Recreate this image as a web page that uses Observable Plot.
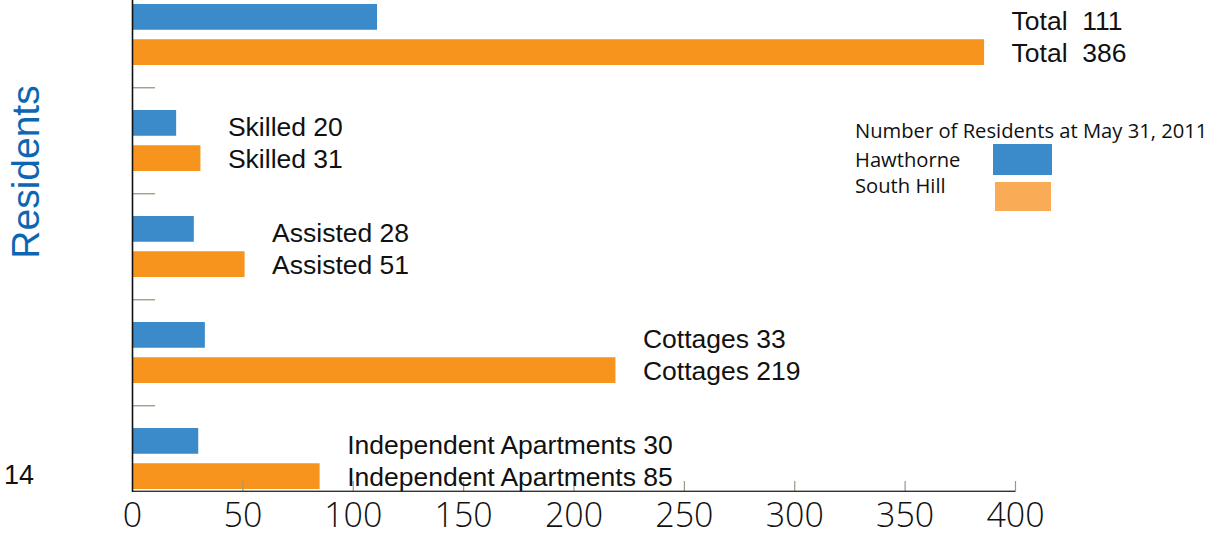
<!DOCTYPE html>
<html>
<head>
<meta charset="utf-8">
<script src="https://cdn.jsdelivr.net/npm/d3@7"></script>
<script src="https://cdn.jsdelivr.net/npm/@observablehq/plot@0.6"></script>
<style>
  html, body { margin: 0; padding: 0; background: #fff; }
  #wrap { position: relative; width: 1214px; height: 537px; overflow: hidden; }
  .abs { position: absolute; white-space: nowrap; }
  .leg { font-family: "Open Sans", "Noto Sans", sans-serif; font-size: 20.2px; line-height: normal; color: #111; }
</style>
</head>
<body>
<div id="wrap"></div>
<script>
const categories = ["Total", "Skilled", "Assisted", "Cottages", "Independent Apartments"];
const hawthorne = [111, 20, 28, 33, 30];
const southHill = [386, 31, 51, 219, 85];
const seriesNames = ["Hawthorne", "South Hill"];
const xTicks = [0, 50, 100, 150, 200, 250, 300, 350, 400];
const legendTitle = "Number of Residents at May 31, 2011";
const yTitle = "Residents";
const strayLabel = "14";

const blue = "#3b8ac9";
const orange = "#f7941e";
const legendOrange = "#f9ab55";

const rows = categories.map((c, i) => ({category: c, hawthorne: hawthorne[i], southHill: southHill[i]}));
const sep = c => c === "Total" ? "\u00a0 " : " ";

const chart = Plot.plot({
  width: 1214,
  height: 537,
  marginLeft: 132,
  marginRight: 199,
  marginTop: 0,
  marginBottom: 45,
  x: {domain: [0, 400], axis: null},
  y: {domain: categories, axis: null, paddingInner: 0.427, paddingOuter: 0.0235},
  style: {fontFamily: "'Liberation Sans', Arial, sans-serif", background: "white", overflow: "visible"},
  marks: [
    Plot.barX(rows, {x: "hawthorne", y: "category", fill: blue, insetBottom: 35.25}),
    Plot.barX(rows, {x: "southHill", y: "category", fill: orange, insetTop: 35.25}),
    Plot.ruleY(categories.slice(1), {y: d => d, x1: 0, x2: 10.4, dy: -53.23, stroke: "#8f8f70", strokeWidth: 1.2}),
    Plot.ruleX(xTicks.slice(1), {insetTop: 481, stroke: "#9a9a80", strokeWidth: 1.2}),
    Plot.barX([0], {x1: 0, x2: 400, insetTop: 490.6, fill: "#333"}),
    Plot.ruleX([0], {stroke: "#111", strokeWidth: 1.6}),
    Plot.axisX({ticks: xTicks, tickSize: 0, tickPadding: 10.4, fontSize: 34, fontFamily: "'Open Sans', 'Noto Sans', sans-serif", fontWeight: 300, label: null, fill: "#111"}),
    Plot.text(rows, {x: d => Math.max(d.hawthorne, d.southHill), y: "category", text: d => d.category + sep(d.category) + d.hawthorne, dx: 27, dy: -13, textAnchor: "start", fontSize: 26.5, fill: "#111"}),
    Plot.text(rows, {x: d => Math.max(d.hawthorne, d.southHill), y: "category", text: d => d.category + sep(d.category) + d.southHill, dx: 27, dy: 18.5, textAnchor: "start", fontSize: 26.5, fill: "#111"})
  ]
});

const wrap = document.getElementById("wrap");
wrap.appendChild(chart);

function addDiv(text, css, cls) {
  const d = document.createElement("div");
  d.className = "abs " + (cls || "");
  d.textContent = text;
  Object.assign(d.style, css);
  wrap.appendChild(d);
  return d;
}
// legend
addDiv(legendTitle, {left: "855px", top: "116px"}, "leg");
addDiv(seriesNames[0], {left: "855px", top: "145px"}, "leg");
addDiv(seriesNames[1], {left: "855px", top: "171px"}, "leg");
addDiv("", {left: "993px", top: "144px", width: "59px", height: "31px", background: blue});
addDiv("", {left: "995px", top: "182px", width: "56px", height: "29px", background: legendOrange});
// rotated y title
addDiv(yTitle, {left: "25px", top: "172px", transform: "translate(-50%, -50%) rotate(-90deg)", fontFamily: "'Liberation Sans', Arial, sans-serif", fontSize: "39px", color: "#0d66b2", lineHeight: "1"});
// stray label
addDiv(strayLabel, {left: "4px", top: "461px", fontFamily: "'Liberation Sans', Arial, sans-serif", fontSize: "27px", color: "#111", lineHeight: "1.1"});
</script>
</body>
</html>
